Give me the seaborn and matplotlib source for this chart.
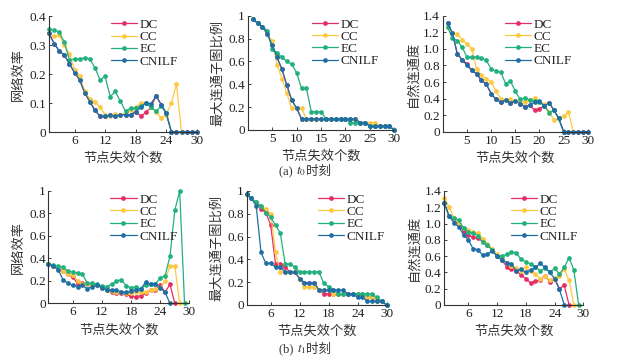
import numpy as np
import pandas as pd
import matplotlib
matplotlib.use("Agg")
import matplotlib.pyplot as plt
import seaborn as sns

sns.set_theme(style="ticks")
plt.rcParams['font.family'] = ['Liberation Serif', 'Noto Sans CJK SC']
plt.rcParams['mathtext.fontset'] = 'stix'
plt.rcParams['axes.unicode_minus'] = False

methods = ['DC', 'CC', 'EC', 'CNILF']
colors = ['#e52d63', '#fdc840', '#22b07d', '#1d6fa5']

# (a) t0 - network efficiency
t0_eff_dc = [0.34, 0.305, 0.28, 0.265, 0.235, 0.205, 0.18, 0.135, 0.105, 0.075, 0.055, 0.055, 0.058, 0.055, 0.06,
             0.06, 0.06, 0.07, 0.055, 0.068, 0.085, 0.125, 0.095, 0.065, 0, 0, 0, 0, 0, 0]
t0_eff_cc = [0.34, 0.33, 0.335, 0.3, 0.27, 0.215, 0.195, 0.14, 0.115, 0.105, 0.085, 0.06, 0.055, 0.062, 0.06,
             0.065, 0.075, 0.085, 0.1, 0.1, 0.085, 0.07, 0.048, 0.06, 0.1, 0.165, 0]
t0_eff_ec = [0.354, 0.352, 0.345, 0.31, 0.248, 0.252, 0.252, 0.256, 0.252, 0.222, 0.18, 0.192, 0.122, 0.14, 0.106,
             0.072, 0.082, 0.083, 0.09, 0.1, 0.085, 0.072, 0.09, 0.065, 0]
t0_eff_cn = [0.34, 0.305, 0.28, 0.265, 0.235, 0.205, 0.18, 0.135, 0.105, 0.075, 0.055, 0.055, 0.058, 0.055, 0.06,
             0.06, 0.06, 0.07, 0.085, 0.1, 0.098, 0.125, 0.095, 0.065, 0, 0, 0, 0, 0, 0]

# (a) t0 - largest connected subgraph ratio
t0_lcc_dc = [0.97, 0.935, 0.905, 0.84, 0.74, 0.635, 0.53, 0.39, 0.26, 0.19, 0.097, 0.097, 0.097, 0.097, 0.097,
             0.097, 0.097, 0.097, 0.097, 0.097, 0.097, 0.097, 0.065, 0.065, 0.032, 0.032, 0.032, 0.032, 0.032, 0]
t0_lcc_cc = [0.97, 0.935, 0.905, 0.84, 0.775, 0.57, 0.45, 0.32, 0.19, 0.19, 0.19, 0.097, 0.097, 0.097, 0.097,
             0.097, 0.097, 0.097, 0.097, 0.097, 0.097, 0.097, 0.065, 0.065, 0.065, 0.065, 0.032, 0.032, 0.032, 0]
t0_lcc_ec = [0.97, 0.935, 0.905, 0.87, 0.705, 0.675, 0.635, 0.6, 0.575, 0.5, 0.365, 0.365, 0.16, 0.16, 0.16,
             0.097, 0.097, 0.097, 0.097, 0.097, 0.065, 0.065, 0.065, 0.065, 0.032, 0.032, 0.032, 0.032, 0.032, 0]
t0_lcc_cn = [0.97, 0.935, 0.905, 0.84, 0.74, 0.635, 0.53, 0.39, 0.26, 0.19, 0.097, 0.097, 0.097, 0.097, 0.097,
             0.097, 0.097, 0.097, 0.097, 0.097, 0.097, 0.097, 0.065, 0.065, 0.032, 0.032, 0.032, 0.032, 0.032, 0]

# (a) t0 - natural connectivity
t0_nat_dc = [1.307, 1.19, 0.94, 0.87, 0.82, 0.74, 0.7, 0.62, 0.575, 0.46, 0.39, 0.36, 0.38, 0.35, 0.37,
             0.34, 0.3, 0.32, 0.26, 0.28, 0.31, 0.35, 0.26, 0.16, 0, 0, 0, 0, 0, 0]
t0_nat_cc = [1.26, 1.18, 1.18, 1.11, 1.06, 1.0, 0.76, 0.68, 0.64, 0.6, 0.49, 0.4, 0.38, 0.39, 0.37,
             0.36, 0.36, 0.38, 0.41, 0.36, 0.33, 0.24, 0.14, 0.165, 0.19, 0.24, 0]
t0_nat_ec = [1.26, 1.13, 1.1, 1.02, 0.9, 0.9, 0.9, 0.89, 0.86, 0.76, 0.73, 0.72, 0.58, 0.61, 0.49,
             0.39, 0.41, 0.38, 0.37, 0.36, 0.31, 0.23, 0.26, 0.16, 0]
t0_nat_cn = [1.307, 1.19, 0.94, 0.87, 0.8, 0.74, 0.7, 0.62, 0.575, 0.46, 0.39, 0.36, 0.38, 0.35, 0.37,
             0.34, 0.3, 0.32, 0.36, 0.37, 0.31, 0.35, 0.26, 0.16, 0, 0, 0, 0, 0, 0]

# (b) t1 - network efficiency
t1_eff_dc = [0.35, 0.33, 0.31, 0.29, 0.26, 0.235, 0.175, 0.185, 0.17, 0.165, 0.165, 0.14, 0.12, 0.1, 0.095,
             0.095, 0.08, 0.065, 0.06, 0.07, 0.09, 0.12, 0.12, 0.165, 0.1, 0.17, 0]
t1_eff_cc = [0.35, 0.33, 0.31, 0.29, 0.26, 0.25, 0.2, 0.17, 0.17, 0.16, 0.16, 0.14, 0.12, 0.11, 0.1,
             0.1, 0.09, 0.09, 0.1, 0.1, 0.1, 0.12, 0.13, 0.14, 0.2, 0.335, 0.335, 0]
t1_eff_ec = [0.35, 0.34, 0.33, 0.32, 0.29, 0.28, 0.27, 0.26, 0.18, 0.18, 0.17, 0.155, 0.15, 0.17, 0.2,
             0.21, 0.155, 0.14, 0.15, 0.125, 0.165, 0.17, 0.17, 0.23, 0.245, 0.42, 0.83, 1.0, 0]
t1_eff_cn = [0.35, 0.33, 0.3, 0.21, 0.18, 0.16, 0.15, 0.16, 0.13, 0.15, 0.16, 0.14, 0.12, 0.12, 0.12,
             0.1, 0.1, 0.11, 0.12, 0.13, 0.19, 0.17, 0.17, 0.14, 0.1, 0]

# (b) t1 - largest connected subgraph ratio
t1_lcc_dc = [0.97, 0.935, 0.9, 0.84, 0.81, 0.7, 0.36, 0.36, 0.33, 0.29, 0.29, 0.23, 0.195, 0.195, 0.195,
             0.13, 0.097, 0.097, 0.097, 0.097, 0.097, 0.097, 0.097, 0.097, 0.097, 0.065, 0.065, 0.032, 0.032, 0]
t1_lcc_cc = [0.97, 0.935, 0.9, 0.87, 0.84, 0.8, 0.46, 0.29, 0.29, 0.29, 0.29, 0.23, 0.16, 0.16, 0.16,
             0.13, 0.13, 0.13, 0.097, 0.097, 0.097, 0.097, 0.097, 0.097, 0.097, 0.065, 0.065, 0.032, 0.032, 0]
t1_lcc_ec = [0.97, 0.935, 0.9, 0.87, 0.81, 0.77, 0.7, 0.63, 0.36, 0.36, 0.33, 0.29, 0.29, 0.29, 0.29,
             0.29, 0.19, 0.16, 0.13, 0.097, 0.097, 0.097, 0.097, 0.097, 0.097, 0.097, 0.097, 0.065, 0.032, 0]
t1_lcc_cn = [0.97, 0.935, 0.87, 0.46, 0.365, 0.365, 0.33, 0.33, 0.29, 0.29, 0.29, 0.23, 0.195, 0.195, 0.195,
             0.13, 0.13, 0.13, 0.13, 0.13, 0.13, 0.097, 0.097, 0.065, 0.065, 0.032, 0.032, 0.032, 0.032, 0]

# (b) t1 - natural connectivity
t1_nat_dc = [1.25, 1.09, 1.05, 0.98, 0.91, 0.86, 0.83, 0.82, 0.78, 0.74, 0.68, 0.6, 0.55, 0.47, 0.44,
             0.42, 0.37, 0.32, 0.27, 0.29, 0.31, 0.36, 0.28, 0.32, 0.2, 0.24, 0]
t1_nat_cc = [1.32, 1.2, 1.07, 1.0, 0.95, 0.92, 0.9, 0.88, 0.81, 0.75, 0.69, 0.62, 0.57, 0.52, 0.48,
             0.45, 0.42, 0.46, 0.42, 0.38, 0.32, 0.35, 0.3, 0.33, 0.36, 0.44, 0.3, 0]
t1_nat_ec = [1.25, 1.09, 1.07, 1.04, 0.95, 0.9, 0.88, 0.85, 0.77, 0.73, 0.67, 0.6, 0.6, 0.62, 0.65,
             0.64, 0.56, 0.53, 0.5, 0.47, 0.42, 0.45, 0.4, 0.45, 0.38, 0.46, 0.58, 0.43, 0]
t1_nat_cn = [1.25, 1.09, 1.01, 0.96, 0.86, 0.8, 0.69, 0.68, 0.61, 0.63, 0.66, 0.6, 0.55, 0.52, 0.5,
             0.42, 0.44, 0.4, 0.43, 0.46, 0.51, 0.46, 0.4, 0.32, 0.19, 0]

ylab_eff = '网络效率'
ylab_lcc = '最大连通子图比例'
ylab_nat = '自然连通度'
xlab = '节点失效个数'

panels = [
    # rect, series, ylabel, xlim, xticks, ylim, yticks, yticklabels, legend x
    ([0.079, 0.630, 0.238, 0.325], [t0_eff_dc, t0_eff_cc, t0_eff_ec, t0_eff_cn], ylab_eff, (1, 30),
     [6, 12, 18, 24, 30], (0, 0.4), [0, 0.1, 0.2, 0.3, 0.4], ['0', '0.1', '0.2', '0.3', '0.4'], 0.40),
    ([0.399, 0.636, 0.236, 0.320], [t0_lcc_dc, t0_lcc_cc, t0_lcc_ec, t0_lcc_cn], ylab_lcc, (0, 30),
     [5, 10, 15, 20, 25, 30], (0, 1), [0, 0.2, 0.4, 0.6, 0.8, 1], ['0', '0.2', '0.4', '0.6', '0.8', '1'], 0.42),
    ([0.713, 0.631, 0.2335, 0.325], [t0_nat_dc, t0_nat_cc, t0_nat_ec, t0_nat_cn], ylab_nat, (0, 30),
     [5, 10, 15, 20, 25, 30], (0, 1.4), [0, 0.2, 0.4, 0.6, 0.8, 1.0, 1.2, 1.4],
     ['0', '0.2', '0.4', '0.6', '0.8', '1.0', '1.2', '1.4'], 0.41),
    ([0.078, 0.150, 0.227, 0.315], [t1_eff_dc, t1_eff_cc, t1_eff_ec, t1_eff_cn], ylab_eff, (1, 30),
     [6, 12, 18, 24, 30], (0, 1), [0, 0.2, 0.4, 0.6, 0.8, 1], ['0', '0.2', '0.4', '0.6', '0.8', '1'], 0.42),
    ([0.397, 0.146, 0.2255, 0.319], [t1_lcc_dc, t1_lcc_cc, t1_lcc_ec, t1_lcc_cn], ylab_lcc, (1, 30),
     [6, 12, 18, 24, 30], (0, 1), [0, 0.2, 0.4, 0.6, 0.8, 1], ['0', '0.2', '0.4', '0.6', '0.8', '1'], 0.49),
    ([0.7155, 0.146, 0.224, 0.319], [t1_nat_dc, t1_nat_cc, t1_nat_ec, t1_nat_cn], ylab_nat, (1, 30),
     [6, 12, 18, 24, 30], (0, 1.4), [0, 0.2, 0.4, 0.6, 0.8, 1.0, 1.2, 1.4],
     ['0', '0.2', '0.4', '0.6', '0.8', '1.0', '1.2', '1.4'], 0.46),
]

fig = plt.figure(figsize=(6.21, 3.57), dpi=100)
fig.patch.set_facecolor('white')

for rect, series, ylabel, xlim, xticks, ylim, yticks, yticklabels, legx in panels:
    ax = fig.add_axes(rect)
    ax.set_facecolor('white')
    for name, col, vals in zip(methods, colors, series):
        df = pd.DataFrame({'x': np.arange(1, len(vals) + 1), 'y': vals})
        sns.lineplot(data=df, x='x', y='y', ax=ax, color=col, label=name, marker='o',
                     markersize=3.4, markeredgewidth=0, linewidth=0.9, estimator=None, sort=False)
    ax.set_xlim(*xlim)
    ax.set_ylim(*ylim)
    ax.set_xticks(xticks)
    ax.set_yticks(yticks)
    ax.set_yticklabels(yticklabels)
    ax.tick_params(labelsize=9.5, length=2, width=0.6, direction='in', pad=2, colors='#222222')
    sns.despine(ax=ax)
    for sp in ['left', 'bottom']:
        ax.spines[sp].set_linewidth(0.8)
        ax.spines[sp].set_color('#333333')
    ax.set_xlabel(xlab, fontsize=9.5, color='#333333', labelpad=4)
    ax.set_ylabel(ylabel, fontsize=9.5, color='#333333', labelpad=3)
    for ln in ax.lines:
        ln.set_clip_on(False)
    ax.legend(loc='upper left', bbox_to_anchor=(legx, 1.0), frameon=False, fontsize=9.5,
              handlelength=2.0, handletextpad=0.2, labelspacing=0.0, borderaxespad=0.0, borderpad=0.2)


def caption(x, y, tag, sub):
    # "(a) t0时刻": mathtext only for the t with subscript, CJK text chained after it
    t1 = fig.text(x, y, tag + ' ', ha='left', va='baseline', fontsize=9, color='#333333')
    a2 = plt.annotate(r'$t_{%s}$' % sub, xy=(1, 0), xycoords=t1, va='bottom', ha='left',
                      fontsize=9.5, color='#333333', annotation_clip=False)
    plt.annotate('时刻', xy=(1, 0), xycoords=a2, va='bottom', ha='left',
                 fontsize=9, color='#333333', annotation_clip=False)


caption(0.45, 0.510, '(a)', '0')
caption(0.45, 0.012, '(b)', '1')

fig.savefig('out.png', dpi=100, facecolor='white')
